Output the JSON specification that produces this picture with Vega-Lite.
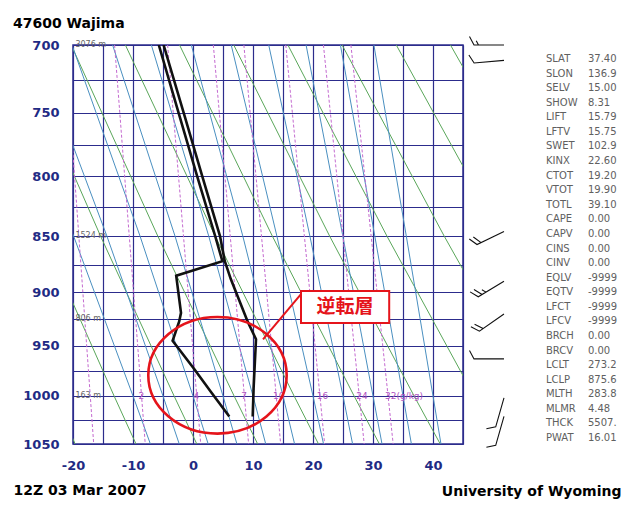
{
  "$schema": "https://vega.github.io/schema/vega-lite/v6.json",
  "background": "white",
  "padding": {"left": 12, "top": 16, "right": 12, "bottom": 6},
  "config": {"view": {"stroke": null}, "font": "DejaVu Sans"},
  "bounds": "flush",
  "spacing": 0,
  "resolve": {"scale": {"x": "independent", "y": "independent"}, "axis": {"x": "independent", "y": "independent"}},
  "datasets": {
    "dry": [
      {"th": 250, "P": 700, "T": -47.4}, {"th": 250, "P": 850, "T": -34.5}, {"th": 250, "P": 1000, "T": -23.15}, {"th": 250, "P": 1050, "T": -19.64},
      {"th": 260, "P": 700, "T": -38.36}, {"th": 260, "P": 850, "T": -24.96}, {"th": 260, "P": 1000, "T": -13.15}, {"th": 260, "P": 1050, "T": -9.5},
      {"th": 270, "P": 700, "T": -29.33}, {"th": 270, "P": 850, "T": -15.41}, {"th": 270, "P": 1000, "T": -3.15}, {"th": 270, "P": 1050, "T": 0.64},
      {"th": 280, "P": 700, "T": -20.3}, {"th": 280, "P": 850, "T": -5.87}, {"th": 280, "P": 1000, "T": 6.85}, {"th": 280, "P": 1050, "T": 10.78},
      {"th": 290, "P": 700, "T": -11.27}, {"th": 290, "P": 850, "T": 3.68}, {"th": 290, "P": 1000, "T": 16.85}, {"th": 290, "P": 1050, "T": 20.92},
      {"th": 300, "P": 700, "T": -2.24}, {"th": 300, "P": 850, "T": 13.22}, {"th": 300, "P": 1000, "T": 26.85}, {"th": 300, "P": 1050, "T": 31.07},
      {"th": 310, "P": 700, "T": 6.79}, {"th": 310, "P": 850, "T": 22.77}, {"th": 310, "P": 1000, "T": 36.85}, {"th": 310, "P": 1050, "T": 41.21},
      {"th": 320, "P": 700, "T": 15.82}, {"th": 320, "P": 850, "T": 32.32}, {"th": 320, "P": 1000, "T": 46.85}, {"th": 320, "P": 1050, "T": 51.35},
      {"th": 330, "P": 700, "T": 24.85}, {"th": 330, "P": 850, "T": 41.86}, {"th": 330, "P": 1000, "T": 56.85}, {"th": 330, "P": 1050, "T": 61.49},
      {"th": 340, "P": 700, "T": 33.88}, {"th": 340, "P": 850, "T": 51.41}, {"th": 340, "P": 1000, "T": 66.85}, {"th": 340, "P": 1050, "T": 71.63},
      {"th": 350, "P": 700, "T": 42.91}, {"th": 350, "P": 850, "T": 60.95}, {"th": 350, "P": 1000, "T": 76.85}, {"th": 350, "P": 1050, "T": 81.77}
    ],
    "moist": [
      {"tw": -10, "P": 700, "T": -32.5}, {"tw": -10, "P": 850, "T": -19.9}, {"tw": -10, "P": 1000, "T": -10}, {"tw": -10, "P": 1050, "T": -7.1},
      {"tw": -5, "P": 700, "T": -26.3}, {"tw": -5, "P": 850, "T": -14.35}, {"tw": -5, "P": 1000, "T": -5}, {"tw": -5, "P": 1050, "T": -2.29},
      {"tw": 0, "P": 700, "T": -20.17}, {"tw": 0, "P": 850, "T": -8.83}, {"tw": 0, "P": 1000, "T": 0}, {"tw": 0, "P": 1050, "T": 2.53},
      {"tw": 5, "P": 700, "T": -13.4}, {"tw": 5, "P": 850, "T": -3.0}, {"tw": 5, "P": 1000, "T": 5}, {"tw": 5, "P": 1050, "T": 7.32},
      {"tw": 10, "P": 700, "T": -6.94}, {"tw": 10, "P": 850, "T": 2.62}, {"tw": 10, "P": 1000, "T": 10}, {"tw": 10, "P": 1050, "T": 12.12},
      {"tw": 15, "P": 700, "T": -0.28}, {"tw": 15, "P": 850, "T": 8.3}, {"tw": 15, "P": 1000, "T": 15}, {"tw": 15, "P": 1050, "T": 16.93},
      {"tw": 20, "P": 700, "T": 6.37}, {"tw": 20, "P": 850, "T": 13.98}, {"tw": 20, "P": 1000, "T": 20}, {"tw": 20, "P": 1050, "T": 21.76},
      {"tw": 25, "P": 700, "T": 12.62}, {"tw": 25, "P": 850, "T": 19.48}, {"tw": 25, "P": 1000, "T": 25}, {"tw": 25, "P": 1050, "T": 26.6},
      {"tw": 30, "P": 700, "T": 18.85}, {"tw": 30, "P": 850, "T": 24.97}, {"tw": 30, "P": 1000, "T": 30}, {"tw": 30, "P": 1050, "T": 31.5},
      {"tw": 35, "P": 700, "T": 24.57}, {"tw": 35, "P": 850, "T": 30.3}, {"tw": 35, "P": 1000, "T": 35}, {"tw": 35, "P": 1050, "T": 36.4},
      {"tw": 40, "P": 700, "T": 30.15}, {"tw": 40, "P": 850, "T": 35.55}, {"tw": 40, "P": 1000, "T": 40}, {"tw": 40, "P": 1050, "T": 41.33}
    ],
    "mix": [
      {"w": 1, "P": 700, "T": -21.3}, {"w": 1, "P": 1050, "T": -16.55},
      {"w": 2, "P": 700, "T": -13.07}, {"w": 2, "P": 1050, "T": -7.96},
      {"w": 4, "P": 700, "T": -4.23}, {"w": 4, "P": 1050, "T": 1.29},
      {"w": 7, "P": 700, "T": 3.39}, {"w": 7, "P": 1050, "T": 9.27},
      {"w": 10, "P": 700, "T": 8.48}, {"w": 10, "P": 1050, "T": 14.61},
      {"w": 16, "P": 700, "T": 15.46}, {"w": 16, "P": 1050, "T": 21.94},
      {"w": 24, "P": 700, "T": 21.74}, {"w": 24, "P": 1050, "T": 28.53},
      {"w": 32, "P": 700, "T": 26.32}, {"w": 32, "P": 1050, "T": 33.36}
    ],
    "mixlabels": [
      {"P": 1000, "T": -8.58, "s": "2"}, {"P": 1000, "T": 0.6, "s": "4"}, {"P": 1000, "T": 8.55, "s": "7"},
      {"P": 1000, "T": 13.85, "s": "10"}, {"P": 1000, "T": 21.14, "s": "16"}, {"P": 1000, "T": 27.7, "s": "24"},
      {"P": 1000, "T": 32.49, "s": "32(g/kg)"}
    ],
    "heights": [
      {"P": 700, "T": -19.6, "s": "3076 m"}, {"P": 850, "T": -19.6, "s": "1524 m"},
      {"P": 925, "T": -19.6, "s": "806 m"}, {"P": 1000, "T": -19.6, "s": "163 m"}
    ],
    "sounding": [
      {"v": "T", "P": 700, "T": -4.9}, {"v": "T", "P": 750, "T": -1.55}, {"v": "T", "P": 800, "T": 1.55},
      {"v": "T", "P": 850, "T": 4.5}, {"v": "T", "P": 872, "T": 5.3}, {"v": "T", "P": 888, "T": 6.3},
      {"v": "T", "P": 927, "T": 9.1}, {"v": "T", "P": 944, "T": 10.5}, {"v": "T", "P": 992, "T": 10.1},
      {"v": "T", "P": 1021, "T": 9.95},
      {"v": "Td", "P": 700, "T": -5.7}, {"v": "Td", "P": 750, "T": -2.4}, {"v": "Td", "P": 800, "T": 0.7},
      {"v": "Td", "P": 850, "T": 3.7}, {"v": "Td", "P": 872, "T": 4.9}, {"v": "Td", "P": 885, "T": -2.8},
      {"v": "Td", "P": 919, "T": -2.0}, {"v": "Td", "P": 927, "T": -2.3}, {"v": "Td", "P": 945.5, "T": -3.4},
      {"v": "Td", "P": 973, "T": 0.2}, {"v": "Td", "P": 996, "T": 3.0}, {"v": "Td", "P": 1021, "T": 6.05}
    ],
    "ellipse": [{"T": 4.08, "P": 979.2}],
    "leader": [{"T": 11.67, "P": 944, "T2": 18.0, "P2": 901.6}],
    "box": [{"T": 18.0, "T2": 32.7, "P": 898.8, "P2": 928.6}],
    "boxlabel": [{"T": 25.33, "P": 913.6, "s": "逆転層"}],
    "barbs": [
      {"P": 700, "dir": 270, "kind": "15"}, {"P": 711, "dir": 265, "kind": "10"},
      {"P": 846, "dir": 244, "kind": "20"}, {"P": 890, "dir": 239, "kind": "25"},
      {"P": 920, "dir": 235, "kind": "20"}, {"P": 963, "dir": 270, "kind": "10"},
      {"P": 1002, "dir": 196, "kind": "10"}, {"P": 1021, "dir": 196, "kind": "10"}
    ],
    "stats": [
      {"name": "SLAT", "value": "37.40"}, {"name": "SLON", "value": "136.9"}, {"name": "SELV", "value": "15.00"},
      {"name": "SHOW", "value": "8.31"}, {"name": "LIFT", "value": "15.79"}, {"name": "LFTV", "value": "15.75"},
      {"name": "SWET", "value": "102.9"}, {"name": "KINX", "value": "22.60"}, {"name": "CTOT", "value": "19.20"},
      {"name": "VTOT", "value": "19.90"}, {"name": "TOTL", "value": "39.10"}, {"name": "CAPE", "value": "0.00"},
      {"name": "CAPV", "value": "0.00"}, {"name": "CINS", "value": "0.00"}, {"name": "CINV", "value": "0.00"},
      {"name": "EQLV", "value": "-9999"}, {"name": "EQTV", "value": "-9999"}, {"name": "LFCT", "value": "-9999"},
      {"name": "LFCV", "value": "-9999"}, {"name": "BRCH", "value": "0.00"}, {"name": "BRCV", "value": "0.00"},
      {"name": "LCLT", "value": "273.2"}, {"name": "LCLP", "value": "875.6"}, {"name": "MLTH", "value": "283.8"},
      {"name": "MLMR", "value": "4.48"}, {"name": "THCK", "value": "5507."}, {"name": "PWAT", "value": "16.01"}
    ]
  },
  "hconcat": [
    {
      "width": 390,
      "height": 399,
      "view": {"stroke": "#2c2c8c", "strokeWidth": 1.5},
      "title": {"text": "47600 Wajima", "anchor": "start", "frame": "group", "dx": -60, "offset": 8, "font": "DejaVu Sans", "fontSize": 14, "fontWeight": "bold", "color": "#000000"},
      "encoding": {
        "x": {
          "field": "T", "type": "quantitative",
          "scale": {"domain": [-20, 45], "nice": false, "zero": false},
          "axis": {
            "values": [-20, -15, -10, -5, 0, 5, 10, 15, 20, 25, 30, 35, 40, 45],
            "labelExpr": "datum.value % 10 === 0 ? toString(datum.value) : ''",
            "grid": true, "gridColor": "#2c2c8c", "gridWidth": 1.2, "gridOpacity": 1,
            "ticks": false, "domain": false, "labelFlush": false, "labelOverlap": false,
            "labelFont": "DejaVu Sans", "labelFontWeight": "bold", "labelFontSize": 13, "labelColor": "#1f2b84", "labelPadding": 15,
            "title": "12Z 03 Mar 2007", "titleAnchor": "start", "titleX": -60, "titleAlign": "left",
            "titleFont": "DejaVu Sans", "titleFontSize": 14, "titleFontWeight": "bold", "titleColor": "#000000", "titlePadding": 11
          }
        },
        "y": {
          "field": "P", "type": "quantitative",
          "scale": {"type": "log", "domain": [700, 1050], "reverse": true, "nice": false, "zero": false},
          "axis": {
            "values": [700, 725, 750, 775, 800, 825, 850, 875, 900, 925, 950, 975, 1000, 1025, 1050],
            "labelExpr": "datum.value % 50 === 0 ? toString(datum.value) : ''",
            "grid": true, "gridColor": "#2c2c8c", "gridWidth": 1.2, "gridOpacity": 1,
            "ticks": false, "domain": false, "labelFlush": false, "labelOverlap": false,
            "labelFont": "DejaVu Sans", "labelFontWeight": "bold", "labelFontSize": 13, "labelColor": "#1f2b84", "labelPadding": 14,
            "title": null
          }
        }
      },
      "layer": [
        {
          "data": {"name": "dry"},
          "mark": {"type": "line", "clip": true, "color": "#5aa65a", "strokeWidth": 1},
          "encoding": {"detail": {"field": "th", "type": "nominal"}, "order": {"field": "P", "type": "quantitative"}}
        },
        {
          "data": {"name": "moist"},
          "mark": {"type": "line", "clip": true, "color": "#4a8fc0", "strokeWidth": 1},
          "encoding": {"detail": {"field": "tw", "type": "nominal"}, "order": {"field": "P", "type": "quantitative"}}
        },
        {
          "data": {"name": "mix"},
          "mark": {"type": "line", "clip": true, "color": "#c46ad0", "strokeWidth": 1, "strokeDash": [3, 2]},
          "encoding": {"detail": {"field": "w", "type": "nominal"}, "order": {"field": "P", "type": "quantitative"}}
        },
        {
          "data": {"name": "sounding"},
          "mark": {"type": "line", "clip": true, "color": "#111111", "strokeWidth": 2.6},
          "encoding": {"detail": {"field": "v", "type": "nominal"}, "order": {"field": "P", "type": "quantitative"}}
        },
        {
          "data": {"name": "heights"},
          "mark": {"type": "text", "align": "left", "baseline": "middle", "font": "DejaVu Sans", "fontSize": 8, "color": "#666666"},
          "encoding": {"text": {"field": "s"}}
        },
        {
          "data": {"name": "mixlabels"},
          "mark": {"type": "text", "align": "left", "baseline": "middle", "dx": -3, "font": "DejaVu Sans", "fontSize": 9, "color": "#b050c0"},
          "encoding": {"text": {"field": "s"}}
        },
        {
          "data": {"name": "ellipse"},
          "mark": {"type": "point", "shape": "M1,0C1,0.4653,0.5523,0.8425,0,0.8425C-0.5523,0.8425,-1,0.4653,-1,0C-1,-0.4653,-0.5523,-0.8425,0,-0.8425C0.5523,-0.8425,1,-0.4653,1,0Z", "size": 19155, "filled": false, "stroke": "#e5141b", "strokeWidth": 2.6, "opacity": 1}
        },
        {
          "data": {"name": "leader"},
          "mark": {"type": "rule", "color": "#e5141b", "strokeWidth": 2},
          "encoding": {"x2": {"field": "T2"}, "y2": {"field": "P2"}}
        },
        {
          "data": {"name": "box"},
          "mark": {"type": "rect", "fill": "#ffffff", "stroke": "#e5141b", "strokeWidth": 2},
          "encoding": {"x2": {"field": "T2"}, "y2": {"field": "P2"}}
        },
        {
          "data": {"name": "boxlabel"},
          "mark": {"type": "text", "align": "center", "baseline": "middle", "font": "Noto Sans CJK JP", "fontSize": 19, "fontWeight": "bold", "color": "#e5141b"},
          "encoding": {"text": {"field": "s"}}
        }
      ]
    },
    {
      "width": 46,
      "height": 399,
      "data": {"name": "barbs"},
      "mark": {"type": "point", "filled": false, "stroke": "#111111", "strokeWidth": 1.1, "size": 3600, "opacity": 1},
      "encoding": {
        "x": {"datum": 0.891, "type": "quantitative", "scale": {"domain": [0, 1]}, "axis": null},
        "y": {"field": "P", "type": "quantitative", "scale": {"type": "log", "domain": [700, 1050], "reverse": true, "nice": false, "zero": false}, "axis": null},
        "shape": {
          "field": "kind", "type": "nominal",
          "scale": {
            "domain": ["10", "15", "20", "25"],
            "range": [
              "M0,0L0,-1L0.28,-1.15",
              "M0,0L0,-1L0.28,-1.15M0,-0.85L0.14,-0.925",
              "M0,0L0,-1L0.28,-1.15M0,-0.85L0.28,-1",
              "M0,0L0,-1L0.28,-1.15M0,-0.85L0.28,-1M0,-0.7L0.14,-0.775"
            ]
          },
          "legend": null
        },
        "angle": {"field": "dir", "type": "quantitative", "scale": {"domain": [0, 360], "range": [0, 360]}}
      }
    },
    {
      "width": 112,
      "height": 407,
      "data": {"name": "stats"},
      "layer": [
        {
          "mark": {"type": "text", "align": "left", "baseline": "middle", "font": "DejaVu Sans", "fontSize": 10, "color": "#606060"},
          "encoding": {
            "x": {"datum": 0.33, "type": "quantitative", "scale": {"domain": [0, 1]},
              "axis": {"labels": false, "ticks": false, "domain": false, "grid": false, "title": "University of Wyoming", "titleAnchor": "end", "titleFont": "DejaVu Sans", "titleFontSize": 14, "titleFontWeight": "bold", "titleColor": "#000000", "titlePadding": 32}},
            "y": {"field": "name", "type": "nominal", "sort": null, "scale": {"type": "point", "padding": 0.96}, "axis": null},
            "text": {"field": "name"}
          }
        },
        {
          "mark": {"type": "text", "align": "left", "baseline": "middle", "font": "DejaVu Sans", "fontSize": 10, "color": "#606060"},
          "encoding": {
            "x": {"datum": 0.705, "type": "quantitative", "scale": {"domain": [0, 1]},
              "axis": {"labels": false, "ticks": false, "domain": false, "grid": false, "title": "University of Wyoming", "titleAnchor": "end", "titleFont": "DejaVu Sans", "titleFontSize": 14, "titleFontWeight": "bold", "titleColor": "#000000", "titlePadding": 32}},
            "y": {"field": "name", "type": "nominal", "sort": null, "scale": {"type": "point", "padding": 0.96}, "axis": null},
            "text": {"field": "value"}
          }
        }
      ]
    }
  ]
}
